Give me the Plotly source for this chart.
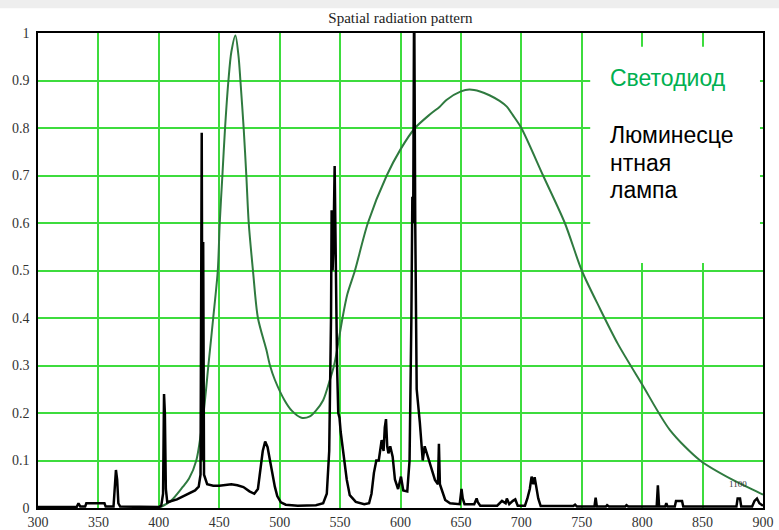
import plotly.graph_objects as go

# LED (Светодиод) spectrum
led_wl = [400, 410, 420, 425, 431, 437, 441, 445, 448.8, 450.4, 452.6, 454.8, 457.6, 460, 463.4,
          466, 467.5, 470.2, 472.4, 474.4, 477.9, 482, 489, 492, 496, 504, 510, 518, 525, 530,
          536, 541.6, 545, 547.5, 552, 556, 562.3, 573, 588.6, 600, 612, 625, 632.5, 638, 650,
          657, 665.8, 673.6, 682, 688, 693, 700, 718, 736, 750, 765, 780, 800, 823, 848, 875,
          897, 900]
led_val = [0.0, 0.015, 0.045, 0.062, 0.1, 0.2, 0.3, 0.4, 0.5, 0.6, 0.7, 0.8, 0.9, 0.96, 0.995,
           0.95, 0.9, 0.8, 0.7, 0.6, 0.5, 0.4, 0.333, 0.3, 0.27, 0.227, 0.205, 0.19, 0.193, 0.205,
           0.227, 0.27, 0.3, 0.333, 0.4, 0.45, 0.5, 0.6, 0.7, 0.755, 0.8, 0.83, 0.845, 0.859, 0.877,
           0.881, 0.877, 0.869, 0.857, 0.845, 0.827, 0.8, 0.7, 0.6, 0.5, 0.42, 0.345, 0.26, 0.164,
           0.1, 0.059, 0.032, 0.028]

# Fluorescent lamp (Люминесцентная лампа) spectrum
lamp_wl = [300, 330, 332, 333.5, 335, 339, 340, 355, 356, 362.5, 363.5, 364.5, 365.5, 366.5, 368,
           400, 402, 403.5, 404.3, 405, 405.8, 407, 415, 420, 425, 430, 433,
           434.5, 435.5, 436.2, 436.7, 437.4, 440, 445, 450, 455, 460, 465, 470, 475, 479, 482,
           484, 486, 488, 490, 492, 494, 496, 498, 501, 505, 515, 530, 536, 539, 541, 542.5, 543,
           543.8, 544.5, 545.5, 546.3, 547.5, 548.5, 549.5, 550.5, 552.7, 555.5, 558, 563, 570,
           574, 576, 578, 580, 582, 584.4, 586, 587, 588, 589, 590, 591.5, 593.5, 595.4, 598,
           600.4, 602.3, 605.6, 607.5, 609, 609.8, 610.5, 611.3, 612.2, 613.4, 616, 618.4, 620,
           621, 623, 625.8, 628.5, 631, 631.8, 632.6, 634, 637, 641, 649, 650.5, 651.5, 653, 661,
           663, 664, 666, 680, 684, 687, 688, 690, 693, 695, 697, 703, 705, 707, 708.5, 710, 711,
           712.5, 714, 716, 743, 744.5, 746, 760.5, 761.5, 762.5, 770, 771, 772.5, 786, 787,
           788.5, 812, 813, 814, 819, 820, 821, 827, 828, 833, 834, 878, 879, 881, 882, 891, 893,
           895, 897, 900]
lamp_val = [0.002, 0.002, 0.002, 0.01, 0.003, 0.003, 0.01, 0.01, 0.003, 0.003, 0.04, 0.08, 0.06,
            0.01, 0.003, 0.002, 0.005, 0.03, 0.24, 0.2, 0.04, 0.012, 0.018, 0.024, 0.03, 0.037,
            0.045, 0.07, 0.79, 0.1, 0.56, 0.07, 0.05, 0.047, 0.047, 0.049, 0.05, 0.048, 0.044,
            0.035, 0.03, 0.04, 0.08, 0.12, 0.14, 0.128, 0.1, 0.07, 0.045, 0.025, 0.012, 0.007,
            0.005, 0.006, 0.01, 0.03, 0.12, 0.4, 0.627, 0.5, 0.55, 0.72, 0.5, 0.3, 0.2, 0.19, 0.16,
            0.12, 0.06, 0.027, 0.013, 0.008, 0.01, 0.03, 0.074, 0.1, 0.1, 0.143, 0.12, 0.17, 0.187,
            0.13, 0.115, 0.13, 0.108, 0.06, 0.04, 0.066, 0.037, 0.035, 0.1, 0.4, 0.655, 0.6, 1.1,
            0.6, 0.25, 0.18, 0.1, 0.13, 0.122, 0.105, 0.08, 0.059, 0.05, 0.135, 0.05, 0.038, 0.017,
            0.01, 0.008, 0.04, 0.02, 0.008, 0.008, 0.02, 0.012, 0.005, 0.005, 0.015, 0.01, 0.02,
            0.008, 0.015, 0.018, 0.005, 0.005, 0.02, 0.04, 0.066, 0.05, 0.065, 0.04, 0.02, 0.004,
            0.004, 0.007, 0.003, 0.003, 0.022, 0.003, 0.003, 0.006, 0.003, 0.003, 0.006, 0.003,
            0.003, 0.048, 0.003, 0.003, 0.01, 0.003, 0.003, 0.015, 0.015, 0.003, 0.003, 0.02, 0.02,
            0.003, 0.003, 0.015, 0.02, 0.01, 0.005]

x_ticks = [300, 350, 400, 450, 500, 550, 600, 650, 700, 750, 800, 850, 900]
y_ticks = [0, 0.1, 0.2, 0.3, 0.4, 0.5, 0.6, 0.7, 0.8, 0.9, 1]

title_text = "Spatial radiation pattern"
led_name = "Светодиод"
lamp_lines = ["Люминесце", "нтная", "лампа"]
corner_label = "1100"

grid_col = "#3ddc3d"
serif = "Liberation Serif, Times New Roman, serif"
sans = "Liberation Sans, Arial, sans-serif"

fig = go.Figure()
fig.add_trace(go.Scatter(x=led_wl, y=led_val, mode="lines", name=led_name,
                         line=dict(color="#2f7a3f", width=2, shape="spline", smoothing=0.8),
                         showlegend=False))
fig.add_trace(go.Scatter(x=lamp_wl, y=lamp_val, mode="lines", name="".join(lamp_lines),
                         line=dict(color="black", width=2.5), showlegend=False))

axis_common = dict(showgrid=True, gridcolor=grid_col, gridwidth=1.5, showline=True,
                   linecolor="black", linewidth=1.5, mirror=True, zeroline=False,
                   automargin=False, ticks="",
                   tickfont=dict(family=serif, size=14, color="#333"))

fig.update_xaxes(range=[300, 900], tickvals=x_ticks, ticktext=[str(v) for v in x_ticks],
                 ticklabelstandoff=0, **axis_common)
fig.update_yaxes(range=[0, 1], tickvals=y_ticks, ticktext=[("%g" % v) for v in y_ticks],
                 ticklabelstandoff=4, **axis_common)

# white legend box
fig.add_shape(type="rect", xref="x", yref="y", x0=757, x1=897.5, y0=0.516, y1=0.971,
              fillcolor="white", line=dict(width=0), layer="above")
# light top strip
fig.add_shape(type="rect", xref="paper", yref="paper", x0=-0.06, x1=1.03, y0=1.052, y1=1.075,
              fillcolor="#eeeeee", line=dict(width=0), layer="above")

fig.add_annotation(x=771.5, y=0.905, xref="x", yref="y", text=led_name, showarrow=False,
                   xanchor="left", yanchor="middle",
                   font=dict(family=sans, size=23, color="#00b050"))
for txt, yy in zip(lamp_lines, [0.785, 0.726, 0.669]):
    fig.add_annotation(x=771.5, y=yy, xref="x", yref="y", text=txt, showarrow=False,
                       xanchor="left", yanchor="middle",
                       font=dict(family=sans, size=23, color="black"))
fig.add_annotation(x=879, y=0.05, xref="x", yref="y", text=corner_label, showarrow=False,
                   xanchor="center", yanchor="middle",
                   font=dict(family=serif, size=9, color="#333"))

fig.update_layout(
    width=779, height=530,
    margin=dict(l=38, r=16, t=33, b=22, autoexpand=False),
    paper_bgcolor="white", plot_bgcolor="white",
    title=dict(text=title_text, x=0.514, xanchor="center", y=0.966, yanchor="middle",
               yref="container", font=dict(family=serif, size=15, color="#222")),
)

fig.write_html("out.html", config={"displayModeBar": False},
               post_script="document.body.style.margin='0';document.body.style.overflow='hidden';")
